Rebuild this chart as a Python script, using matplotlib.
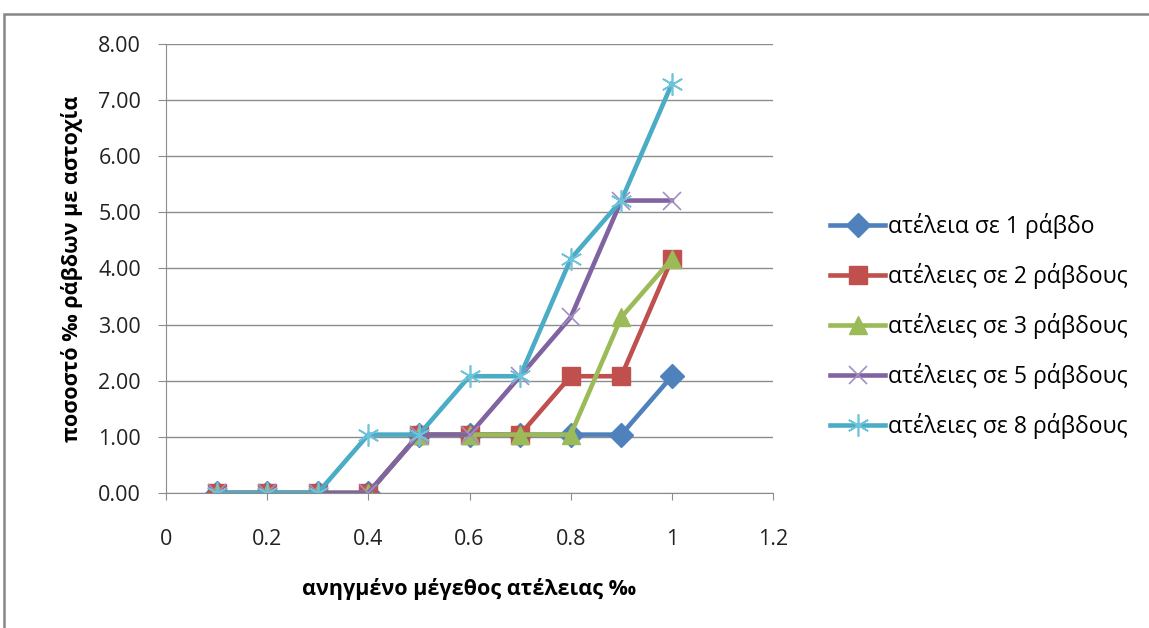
import matplotlib.pyplot as plt
from matplotlib.patches import Rectangle
import numpy as np

# data
x = [0.1, 0.2, 0.3, 0.4, 0.5, 0.6, 0.7, 0.8, 0.9, 1.0]
s1 = [0, 0, 0, 0, 1.04, 1.04, 1.04, 1.04, 1.04, 2.08]
s2 = [0, 0, 0, 0, 1.04, 1.04, 1.04, 2.08, 2.08, 4.17]
s3 = [0, 0, 0, 0, 1.04, 1.04, 1.04, 1.04, 3.13, 4.17]
s5 = [0, 0, 0, 0, 1.04, 1.04, 2.08, 3.13, 5.21, 5.21]
s8 = [0, 0, 0, 1.04, 1.04, 2.08, 2.08, 4.17, 5.21, 7.29]
labels = ['ατέλεια σε 1 ράβδο', 'ατέλειες σε 2 ράβδους', 'ατέλειες σε 3 ράβδους',
          'ατέλειες σε 5 ράβδους', 'ατέλειες σε 8 ράβδους']
xticks = [0, 0.2, 0.4, 0.6, 0.8, 1.0, 1.2]
xtick_labels = ['0', '0.2', '0.4', '0.6', '0.8', '1', '1.2']
yticks = [0, 1, 2, 3, 4, 5, 6, 7, 8]

plt.rcParams['font.family'] = ['Open Sans', 'DejaVu Sans']

fig = plt.figure(figsize=(11.49, 6.28), dpi=100)
ax = fig.add_axes([0.1445, 0.215, 0.5283, 0.715])

# outer chart frame (cut off at right/bottom like the screenshot)
fig.patches.append(Rectangle((4 / 1149, -0.05), 1.2, 0.05 + (628 - 14) / 628,
                             transform=fig.transFigure, fill=False,
                             edgecolor='#878787', linewidth=1.8))

ax.plot(x, s1, color='#4F81BD', lw=3.3, marker='D', ms=12, label=labels[0])
ax.plot(x, s2, color='#C0504D', lw=3.3, marker='s', ms=13, label=labels[1])
ax.plot(x, s3, color='#9BBB59', lw=3.3, marker='^', ms=13, label=labels[2])
ax.plot(x, s5, color='#8064A2', lw=3.3, marker='x', ms=13, mew=1.2,
        mec='#A48FC4', label=labels[3])
ax.plot(x, s8, color='#4BACC6', lw=3.3, marker=(6, 2, 0), ms=16, mew=1.2,
        mec='#6EC3DA', label=labels[4])

ax.set_xlim(0, 1.2)
ax.set_ylim(0, 8)
ax.set_xticks(xticks)
ax.set_xticklabels(xtick_labels)
ax.set_yticks(yticks)
ax.set_yticklabels(['%.2f' % v for v in yticks])
ax.grid(axis='y', color='#8C8C8C', lw=1)
ax.set_axisbelow(True)

for side in ['top', 'right']:
    ax.spines[side].set_visible(False)
for side in ['left', 'bottom']:
    ax.spines[side].set_color('#8C8C8C')
ax.tick_params(axis='x', direction='out', length=5, color='#8C8C8C', pad=21,
               labelsize=15.5, labelcolor='#222222')
ax.tick_params(axis='y', direction='out', length=6, color='#8C8C8C', pad=12,
               labelsize=15.5, labelcolor='#222222')

ax.set_xlabel('ανηγμένο μέγεθος ατέλειας ‰', fontsize=15.5, fontweight='bold', labelpad=20)
ax.set_ylabel('ποσοστό ‰ ράβδων με αστοχία', fontsize=15.5, fontweight='bold', labelpad=11)

fig.legend(loc='center left', bbox_to_anchor=(830 / 1149, 1 - 326 / 628), frameon=False,
           fontsize=16.5, handlelength=2.4, labelspacing=1.05, handletextpad=0.15,
           borderpad=0, borderaxespad=0)

fig.savefig('out.png', dpi=100)
